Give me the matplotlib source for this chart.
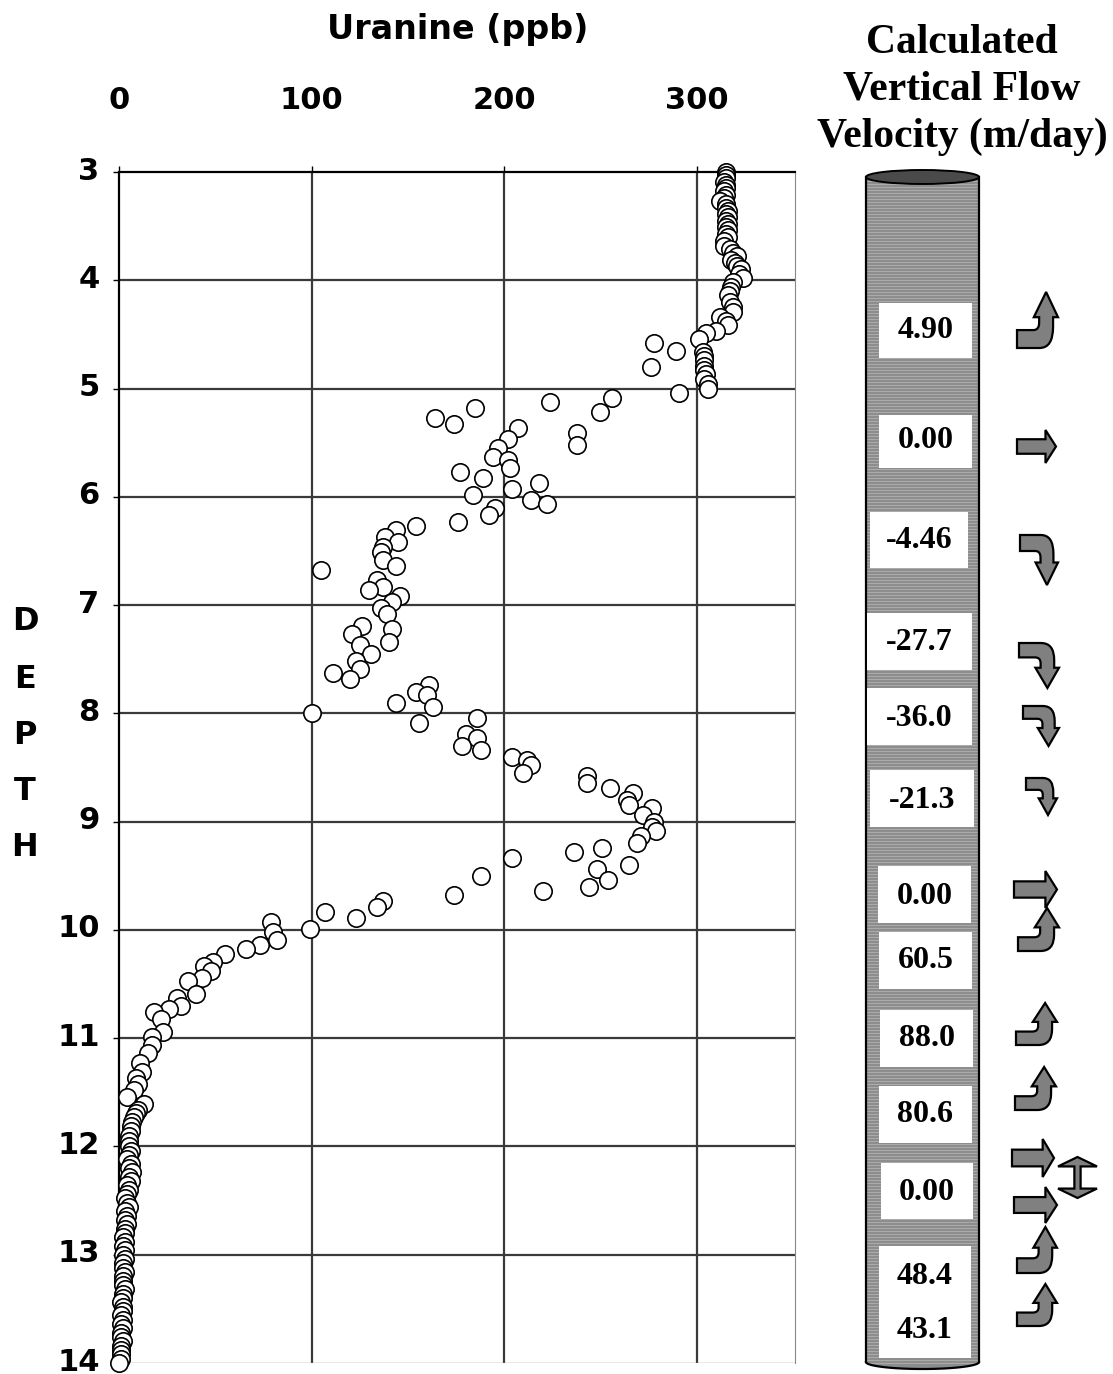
import numpy as np
import matplotlib
matplotlib.use("Agg")
import matplotlib.pyplot as plt
import matplotlib.transforms as mtransforms
from matplotlib.path import Path
from matplotlib.patches import PathPatch, Rectangle, Ellipse, Polygon

# uranine profile: depth (m) and concentration (ppb)
depth = [
    3.00, 3.03, 3.06, 3.09, 3.12, 3.15, 3.18, 3.21, 3.24, 3.27, 3.30, 3.33, 3.36, 3.39,
    3.42, 3.45, 3.48, 3.51, 3.54, 3.57, 3.60, 3.64, 3.68, 3.71, 3.75, 3.78, 3.81, 3.84,
    3.87, 3.90, 3.94, 3.98, 4.02, 4.06, 4.10, 4.14, 4.20, 4.25, 4.29, 4.34, 4.38, 4.41,
    4.47, 4.49, 4.54, 4.58, 4.65, 4.66, 4.70, 4.74, 4.80, 4.79, 4.83, 4.87, 4.91, 4.96,
    5.00, 5.04, 5.09, 5.12, 5.18, 5.22, 5.27, 5.33, 5.36, 5.41, 5.47, 5.52, 5.55, 5.63,
    5.66, 5.73, 5.77, 5.83, 5.87, 5.93, 5.98, 6.03, 6.07, 6.10, 6.17, 6.23, 6.27, 6.31,
    6.37, 6.42, 6.46, 6.51, 6.58, 6.64, 6.68, 6.77, 6.83, 6.86, 6.92, 6.97, 7.03, 7.08,
    7.19, 7.22, 7.27, 7.34, 7.37, 7.45, 7.52, 7.59, 7.63, 7.68, 7.74, 7.80, 7.83, 7.90,
    7.94, 8.00, 8.04, 8.09, 8.19, 8.23, 8.30, 8.34, 8.40, 8.43, 8.48, 8.55, 8.58, 8.64,
    8.69, 8.74, 8.80, 8.85, 8.87, 8.94, 9.00, 9.05, 9.09, 9.13, 9.20, 9.24, 9.28, 9.34,
    9.40, 9.44, 9.50, 9.54, 9.60, 9.64, 9.68, 9.73, 9.79, 9.83, 9.89, 9.93, 9.99, 10.02,
    10.09, 10.14, 10.18, 10.22, 10.30, 10.33, 10.38, 10.44, 10.47, 10.59, 10.63, 10.70,
    10.73, 10.76, 10.82, 10.94, 10.99, 11.06, 11.14, 11.23, 11.31, 11.37, 11.42, 11.48,
    11.54, 11.61, 11.66, 11.69, 11.73, 11.77, 11.81, 11.86, 11.90, 11.95,
    12.00, 12.04, 12.08, 12.12, 12.16, 12.20, 12.24, 12.28, 12.32, 12.36, 12.40, 12.44,
    12.48, 12.52, 12.56, 12.60, 12.64, 12.68, 12.72, 12.76, 12.80, 12.84, 12.88, 12.92,
    12.96, 13.00, 13.04, 13.08, 13.12, 13.16, 13.20, 13.24, 13.28, 13.32, 13.36, 13.40,
    13.44, 13.48, 13.52, 13.56, 13.60, 13.64, 13.68, 13.72, 13.76, 13.80, 13.84, 13.88,
    13.92, 13.96, 14.00,
]
uranine = [
    315, 315, 315, 314, 315, 315, 314, 315, 314, 312, 315, 315, 316, 315,
    316, 315, 316, 315, 316, 315, 316, 314, 314, 317, 319, 321, 318, 320,
    321, 323, 322, 324, 319, 318, 317, 316, 317, 319, 319, 312, 315, 316,
    310, 305, 301, 278, 289, 303, 304, 304, 276, 304, 304, 305, 304, 306,
    306, 291, 256, 224, 185, 250, 164, 174, 207, 238, 202, 238, 197, 194,
    202, 203, 177, 189, 218, 204, 184, 214, 222, 195, 192, 176, 154, 144,
    138, 145, 137, 136, 137, 144, 105, 134, 137, 130, 146, 142, 136, 139,
    126, 142, 121, 140, 125, 131, 123, 125, 111, 120, 161, 154, 160, 144,
    163, 100, 186, 156, 180, 186, 178, 188, 204, 212, 214, 210, 243, 243,
    255, 267, 264, 265, 277, 272, 278, 277, 279, 271, 269, 251, 236, 204,
    265, 248, 188, 254, 244, 220, 174, 137, 134, 107, 123, 79, 99, 80,
    82, 73, 66, 55, 49, 44, 48, 43, 36, 40, 30, 32,
    26, 18, 22, 23, 17, 17, 15, 11, 12, 9, 10, 8,
    4, 13, 10, 9, 8, 7, 6, 6, 5, 5,
    5, 6, 5, 4, 6, 5, 7, 5, 6, 4, 5, 4,
    3, 4, 5, 3, 4, 3, 4, 3, 3, 2, 3, 2,
    3, 2, 3, 2, 2, 3, 2, 2, 2, 3, 2, 2,
    1, 2, 2, 1, 2, 1, 2, 1, 1, 2, 1, 1,
    1, 1, 0,
]

x_ticks = [0, 100, 200, 300]
y_ticks = [3, 4, 5, 6, 7, 8, 9, 10, 11, 12, 13, 14]

# calculated vertical flow velocity (m/day), top to bottom
velocity_labels = ["4.90", "0.00", "-4.46", "-27.7", "-36.0", "-21.3",
                   "0.00", "60.5", "88.0", "80.6", "0.00", "48.4", "43.1"]
flow_kinds = ["up", "right", "down", "down", "down", "down",
              "right", "up", "up", "up", "right", "double", "right", "up", "up"]

W, H = 1113, 1374
fig = plt.figure(figsize=(W / 100, H / 100), dpi=100)

# ---- profile axes ----
ax = fig.add_axes([119 / W, 1 - 1363 / H, (795 - 119) / W, (1363 - 172) / H])
ax.plot(uranine, depth, "o", ms=12.5, mfc="white", mec="black", mew=1.2,
        clip_on=False, zorder=5)
ax.set_xlim(0, 351)
ax.set_ylim(14, 3)
ax.xaxis.tick_top()
ax.set_xticks(x_ticks)
ax.set_yticks(y_ticks)
for v in x_ticks[1:]:
    ax.axvline(v, color="#3a3a3a", lw=1.6, zorder=1)
for v in y_ticks[1:-1]:
    ax.axhline(v, color="#3a3a3a", lw=1.6, zorder=1)
ax.axhline(y_ticks[-1], color="#8a8a8a", lw=1.0, zorder=1)

for side in ["top", "left"]:
    ax.spines[side].set_linestyle((0, (1, 1)))
    ax.spines[side].set_linewidth(1.6)
ax.spines["right"].set_linestyle((0, (1, 1)))
ax.spines["right"].set_color("#888888")
ax.spines["bottom"].set_visible(False)

ax.tick_params(axis="x", length=4, width=1, pad=37, labelsize=22)
ax.tick_params(axis="y", length=4, width=1, pad=10, labelsize=22)
nudge_up = mtransforms.ScaledTranslation(0, 4 / 100, fig.dpi_scale_trans)
for lbl in ax.get_xticklabels() + ax.get_yticklabels():
    lbl.set_fontweight("bold")
    lbl.set_family("DejaVu Sans")
for lbl in ax.get_yticklabels():
    lbl.set_transform(lbl.get_transform() + nudge_up)

fig.text(458 / W, 1 - 30 / H, "Uranine (ppb)", ha="center", va="center",
         fontsize=24, fontweight="bold", family="DejaVu Sans")
for letter, yp in zip("DEPTH", [622, 680, 736, 791, 847]):
    fig.text(25 / W, 1 - yp / H, letter, ha="center", va="center",
             fontsize=23, fontweight="bold", family="DejaVu Sans")

# ---- borehole column with flow velocities ----
deco = fig.add_axes([0, 0, 1, 1], facecolor="none")
deco.set_xlim(0, W)
deco.set_ylim(H, 0)
deco.axis("off")

serif = dict(family="Liberation Serif", weight="bold")
deco.text(962, 90, "Calculated\nVertical Flow\nVelocity (m/day)", ha="center",
          va="center", fontsize=30, linespacing=1.3, **serif)

cx0, cx1, ctop, cbot = 866, 979, 177, 1362
cmid, crx, cry = (cx0 + cx1) / 2, (cx1 - cx0) / 2, 7
t = np.linspace(0, np.pi, 60)
body = [(cx0, ctop), (cx1, ctop)] + list(zip(cmid + crx * np.cos(t), cbot + cry * np.sin(t)))
deco.add_patch(Polygon(body, closed=True, fc="#8c8c8c", ec="none", zorder=1))
deco.hlines(np.arange(ctop + 1, cbot + 4, 3), cx0, cx1, color="#aaaaaa", lw=0.8, zorder=2)
deco.plot([cx0, cx0], [ctop, cbot], color="black", lw=1.6, zorder=3)
deco.plot([cx1, cx1], [ctop, cbot], color="black", lw=1.6, zorder=3)
deco.plot(cmid + crx * np.cos(t), cbot + cry * np.sin(t), color="black", lw=1.6, zorder=3)
deco.add_patch(Ellipse((cmid, ctop), 2 * crx, 2 * cry, fc="#4a4a4a", ec="black", lw=1.4, zorder=4))

boxes = [(879, 303, 972, 358), (879, 415, 972, 468), (870, 512, 968, 568),
         (867, 613, 972, 670), (867, 688, 972, 745), (870, 770, 974, 827),
         (878, 866, 971, 923), (879, 932, 972, 989), (880, 1010, 973, 1067),
         (879, 1086, 972, 1143), (881, 1163, 973, 1219), (879, 1246, 971, 1302),
         (879, 1302, 971, 1358)]
label_y = [331, 441, 541, 643, 718, 800, 896, 961, 1039, 1114, 1192, 1276, 1331]
for (x0, y0, x1, y1), ly, txt in zip(boxes, label_y, velocity_labels):
    deco.add_patch(Rectangle((x0, y0), x1 - x0, y1 - y0, fc="white", ec="none", zorder=5))
    deco.text((x0 + x1) / 2, ly, txt, ha="center", va="center", fontsize=23,
              zorder=6, **serif)

M, L, C3, CL = Path.MOVETO, Path.LINETO, Path.CURVE3, Path.CLOSEPOLY
shapes = {
    "up": ([(0.71, 0), (1.0, 0.45), (0.88, 0.45), (0.88, 0.62), (0.88, 1.0), (0.55, 1.0),
            (0, 1.0), (0, 0.68), (0.40, 0.68), (0.54, 0.68), (0.54, 0.55), (0.54, 0.45),
            (0.41, 0.45), (0.71, 0)],
           [M, L, L, L, C3, C3, L, L, L, C3, C3, L, L, CL]),
    "right": ([(0, 0.28), (0.73, 0.28), (0.73, 0), (1.0, 0.5), (0.73, 1.0), (0.73, 0.72),
               (0, 0.72), (0, 0.28)],
              [M, L, L, L, L, L, L, CL]),
    "double": ([(0.5, 0), (1.0, 0.23), (0.58, 0.23), (0.58, 0.77), (1.0, 0.77), (0.5, 1.0),
                (0, 0.77), (0.42, 0.77), (0.42, 0.23), (0, 0.23), (0.5, 0)],
               [M, L, L, L, L, L, L, L, L, L, CL]),
}
arrow_boxes = [(1017, 292, 41, 56), (1017, 430, 39, 33), (1020, 535, 38, 50),
               (1019, 643, 40, 45), (1023, 706, 36, 40), (1026, 778, 31, 37),
               (1014, 871, 43, 37), (1018, 908, 41, 43), (1016, 1003, 41, 42),
               (1015, 1067, 41, 43), (1012, 1139, 42, 38), (1058, 1157, 39, 41),
               (1014, 1187, 43, 36), (1017, 1227, 40, 46), (1017, 1284, 40, 42)]
for kind, (x0, y0, w, h) in zip(flow_kinds, arrow_boxes):
    pts, codes = shapes["up" if kind == "down" else kind]
    pts = np.array(pts, dtype=float)
    if kind == "down":
        pts[:, 1] = 1 - pts[:, 1]
    verts = np.column_stack([x0 + pts[:, 0] * w, y0 + pts[:, 1] * h])
    deco.add_patch(PathPatch(Path(verts, codes), fc="#808080", ec="black", lw=1.6,
                             joinstyle="miter", zorder=5))

fig.savefig("out.png", dpi=100)
